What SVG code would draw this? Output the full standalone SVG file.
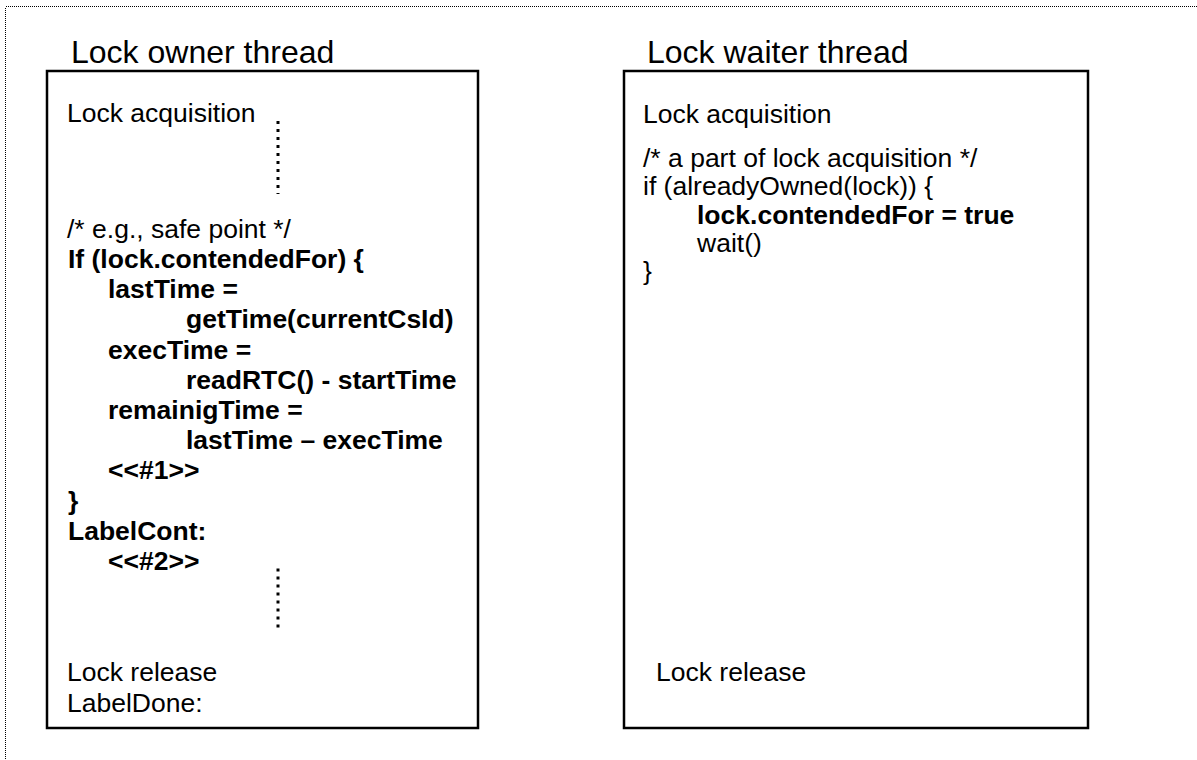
<svg xmlns="http://www.w3.org/2000/svg" width="1197" height="760" viewBox="0 0 1197 760">
  <style>
    text { font-family: "Liberation Sans", Arial, sans-serif; fill: #000; }
    .title { font-size: 32px; }
    .code { font-size: 26.5px; }
    .b { font-weight: bold; }
    .box { fill: #fff; stroke: #000; stroke-width: 2.5; }
    .frame { fill: none; stroke: #000; stroke-width: 1; stroke-dasharray: 1 1; shape-rendering: crispEdges; }
    .elide { stroke: #000; stroke-width: 3; stroke-dasharray: 3 5; }
  </style>
  <rect width="1197" height="760" fill="#fff"/>

  <!-- outer dotted frame -->
  <rect class="frame" x="5.5" y="6.5" width="1200" height="800"/>

  <!-- owner thread -->
  <g id="owner-thread">
    <text class="title" x="71" y="62.7">Lock owner thread</text>
    <rect class="box" x="47" y="71" width="431" height="657"/>
    <text class="code" x="67" y="122">Lock acquisition</text>
    <text class="code" x="67" y="238">/* e.g., safe point */</text>
    <g class="code b">
      <text x="68" y="268">If (lock.contendedFor) {</text>
      <text x="108" y="298.2">lastTime =</text>
      <text x="186" y="328.4">getTime(currentCsId)</text>
      <text x="108" y="358.6">execTime =</text>
      <text x="186" y="388.8">readRTC() - startTime</text>
      <text x="108" y="419">remainigTime =</text>
      <text x="186" y="449.2">lastTime – execTime</text>
      <text x="108" y="479.4">&lt;&lt;#1&gt;&gt;</text>
      <text x="68" y="509.6">}</text>
      <text x="68" y="539.8">LabelCont:</text>
      <text x="108" y="570">&lt;&lt;#2&gt;&gt;</text>
    </g>
    <text class="code" x="67" y="680.5">Lock release</text>
    <text class="code" x="67" y="711.5">LabelDone:</text>
  </g>

  <!-- waiter thread -->
  <g id="waiter-thread">
    <text class="title" x="647" y="62.7">Lock waiter thread</text>
    <rect class="box" x="624" y="71" width="464" height="657"/>
    <text class="code" x="643" y="123">Lock acquisition</text>
    <text class="code" x="643" y="166.5">/* a part of lock acquisition */</text>
    <text class="code" x="643" y="195">if (alreadyOwned(lock)) {</text>
    <text class="code b" x="697" y="223.5">lock.contendedFor = true</text>
    <text class="code" x="697" y="252">wait()</text>
    <text class="code" x="643" y="280">}</text>
    <text class="code" x="656" y="681">Lock release</text>
  </g>

  <!-- elided code markers -->
  <g id="connectors">
    <line class="elide" x1="278" y1="121" x2="278" y2="194"/>
    <line class="elide" x1="278" y1="568.5" x2="278" y2="630"/>
  </g>
</svg>
